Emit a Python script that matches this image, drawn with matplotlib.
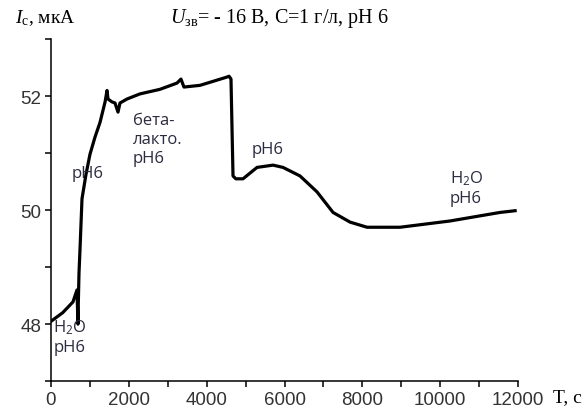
import matplotlib
matplotlib.use('Agg')
import matplotlib.pyplot as plt
from matplotlib.ticker import MultipleLocator

plt.rcParams['mathtext.fontset'] = 'custom'
plt.rcParams['mathtext.rm'] = 'Liberation Serif'
plt.rcParams['mathtext.it'] = 'Liberation Serif:italic'

# время, с и ток стока, мкА
t = [0, 300, 565, 668, 694, 700, 720, 745, 797, 900, 1002, 1130, 1260,
     1390, 1440, 1465, 1565, 1645, 1722, 1773, 1953, 2287, 2800, 3238,
     3340, 3417, 3829, 4497, 4575, 4625, 4677, 4750, 4934, 5294, 5705,
     5962, 6399, 6836, 7247, 7684, 8121, 8969, 10254, 11539, 11925]
i_c = [48.05, 48.2, 48.39, 48.6, 48.0, 48.3, 48.9, 49.3, 50.2, 50.63,
       50.98, 51.28, 51.54, 51.9, 52.1, 51.95, 51.9, 51.88, 51.72, 51.88,
       51.95, 52.04, 52.12, 52.23, 52.3, 52.16, 52.19, 52.33, 52.35, 52.3,
       50.6, 50.55, 50.55, 50.75, 50.79, 50.75, 50.6, 50.32, 49.96, 49.79,
       49.70, 49.70, 49.81, 49.96, 49.99]

labels = ['H$\\mathregular{_2}$O\npH6', 'pH6', 'бета-\nлакто.\npH6', 'pH6',
          'H$\\mathregular{_2}$O\npH6']
label_x = [60, 540, 2107, 5166, 10254]
label_y = [48.12, 50.8, 51.72, 51.22, 50.74]

fig = plt.figure(figsize=(5.86, 4.10), dpi=100)
ax = fig.add_axes([0.087, 0.068, 0.797, 0.834])

ax.plot(t, i_c, color='black', lw=2.3, solid_joinstyle='round')

for s, x, y in zip(labels, label_x, label_y):
    ax.text(x, y, s, fontsize=12, family='Open Sans', color='#2b2b40',
            va='top', ha='left', linespacing=1.25)

ax.set_xlim(0, 12000)
ax.set_ylim(47, 53)
ax.xaxis.set_major_locator(MultipleLocator(2000))
ax.xaxis.set_minor_locator(MultipleLocator(1000))
ax.yaxis.set_major_locator(MultipleLocator(2))
ax.yaxis.set_minor_locator(MultipleLocator(1))
for sp in ['top', 'right']:
    ax.spines[sp].set_visible(False)
for sp in ['left', 'bottom']:
    ax.spines[sp].set_linewidth(1.1)
ax.tick_params(which='both', direction='out', width=1.1, length=4,
               labelsize=13.5, pad=3)
for lab in ax.get_xticklabels() + ax.get_yticklabels():
    lab.set_family('Liberation Sans')
    lab.set_color('#333333')

fig.text(0.025, 0.955, r'$\mathit{I}_{\mathrm{c}}$, мкА', fontsize=14,
         family='Liberation Serif', va='center')
fig.text(0.29, 0.955, r'$\mathit{U}_{\mathrm{зв}}$= - 16 В, С=1 г/л, pH 6',
         fontsize=14.5, family='Liberation Serif', va='center')
fig.text(0.943, 0.03, 'T, c', fontsize=14, family='Liberation Serif',
         va='center')

fig.savefig('out.png', dpi=100)
